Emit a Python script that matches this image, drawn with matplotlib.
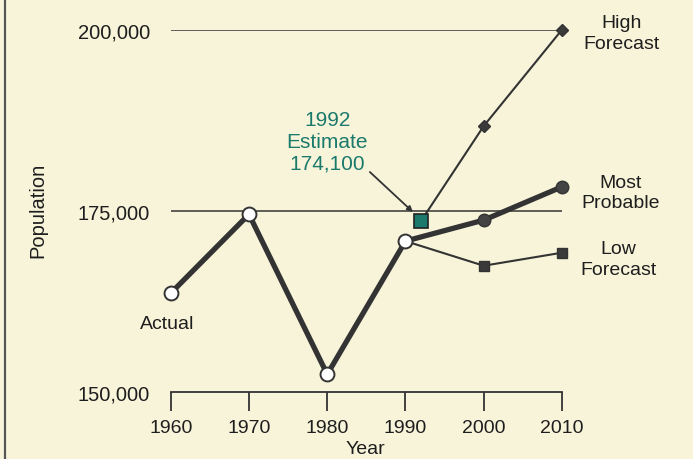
import matplotlib
matplotlib.use("Agg")
import matplotlib.pyplot as plt
from matplotlib.lines import Line2D

# values
actual_years = [1960, 1970, 1980, 1990]
actual_pop = [163600, 174500, 152400, 170800]

estimate_year = 1992
estimate_pop = 173600

probable_years = [1990, 2000, 2010]
probable_pop = [170800, 173700, 178300]

high_years = [1992, 2000, 2010]
high_pop = [173600, 186700, 200000]

low_years = [1990, 2000, 2010]
low_pop = [170800, 167400, 169200]

x_ticks = [1960, 1970, 1980, 1990, 2000, 2010]
y_ticks = [150000, 175000, 200000]
y_labels = ["150,000", "175,000", "200,000"]

bg = "#f8f4da"
ink = "#333333"
txt = "#1e1e1e"
teal = "#1b7a6c"

plt.rcParams["font.family"] = ["Liberation Sans", "DejaVu Sans"]

fig = plt.figure(figsize=(6.93, 4.6), dpi=100, facecolor=bg)
ax = fig.add_axes([170.7 / 693, 1 - 392.7 / 460, (562 - 170.7) / 693, (392.7 - 30.7) / 460])
ax.set_facecolor(bg)
ax.set_xlim(1960, 2010)
ax.set_ylim(150000, 200000)

for s in ["top", "right", "left"]:
    ax.spines[s].set_visible(False)
ax.spines["bottom"].set_color(ink)
ax.spines["bottom"].set_linewidth(1.3)

ax.set_xticks(x_ticks)
ax.tick_params(axis="x", direction="out", length=13.7, width=1.3, color=ink,
               pad=6, labelsize=14, labelcolor=txt)
ax.set_yticks(y_ticks)
ax.set_yticklabels(y_labels)
ax.tick_params(axis="y", length=0, pad=15, labelsize=14.5, labelcolor=txt)

# reference lines
ax.hlines([175000], 1960, 2010, color=ink, lw=1.1, zorder=1)
ax.hlines([200000], 1960, 2009.4, color=ink, lw=1.1, zorder=1)

# forecasts
ax.plot(high_years, high_pop, color=ink, lw=1.5, marker="D", ms=6,
        mfc="#3a3a3a", mec=ink, zorder=3, clip_on=False)
ax.plot(low_years, low_pop, color=ink, lw=1.5, marker="s", ms=7,
        mfc="#3a3a3a", mec=ink, zorder=3, clip_on=False)
ax.plot(probable_years, probable_pop, color=ink, lw=3.8, marker="o", ms=9,
        mfc="#444444", mec=ink, zorder=4, clip_on=False)

# actual
ax.plot(actual_years, actual_pop, color=ink, lw=3.8, marker="o", ms=10,
        mfc="white", mec=ink, mew=1.4, zorder=5, clip_on=False)

# 1992 estimate
ax.plot([estimate_year], [estimate_pop], marker="s", ms=10, mfc=teal,
        mec="#222222", mew=1.2, ls="none", zorder=6, clip_on=False)
ax.annotate("", xy=(1990.95, 174820), xytext=(1985.45, 180345),
            arrowprops=dict(arrowstyle="-|>", color=ink, lw=1.3,
                            mutation_scale=8, shrinkA=0, shrinkB=0))
ax.text(1980, 184600, "1992\nEstimate\n174,100", color=teal, fontsize=15,
        ha="center", va="center", linespacing=1.2)

# series labels
ax.text(2017.6, 199540, "High\nForecast", fontsize=14, color=txt,
        ha="center", va="center", linespacing=1.3)
ax.text(2017.5, 177510, "Most\nProbable", fontsize=14, color=txt,
        ha="center", va="center", linespacing=1.3)
ax.text(2017.2, 168330, "Low\nForecast", fontsize=14, color=txt,
        ha="center", va="center", linespacing=1.3)
ax.text(1959.5, 159400, "Actual", fontsize=14, color=txt,
        ha="center", va="center")

fig.text(38 / 693, 1 - 210 / 460, "Population", rotation=90, fontsize=14.5,
         color=txt, ha="center", va="center")
fig.text(365 / 693, 1 - 441 / 460, "Year", fontsize=14, color=txt,
         ha="center", va="top")

# edge of the scanned page
fig.add_artist(Line2D([5 / 693, 5 / 693], [0, 1], color="#555555", lw=1.6))

fig.savefig("out.png", dpi=100, facecolor=bg)
